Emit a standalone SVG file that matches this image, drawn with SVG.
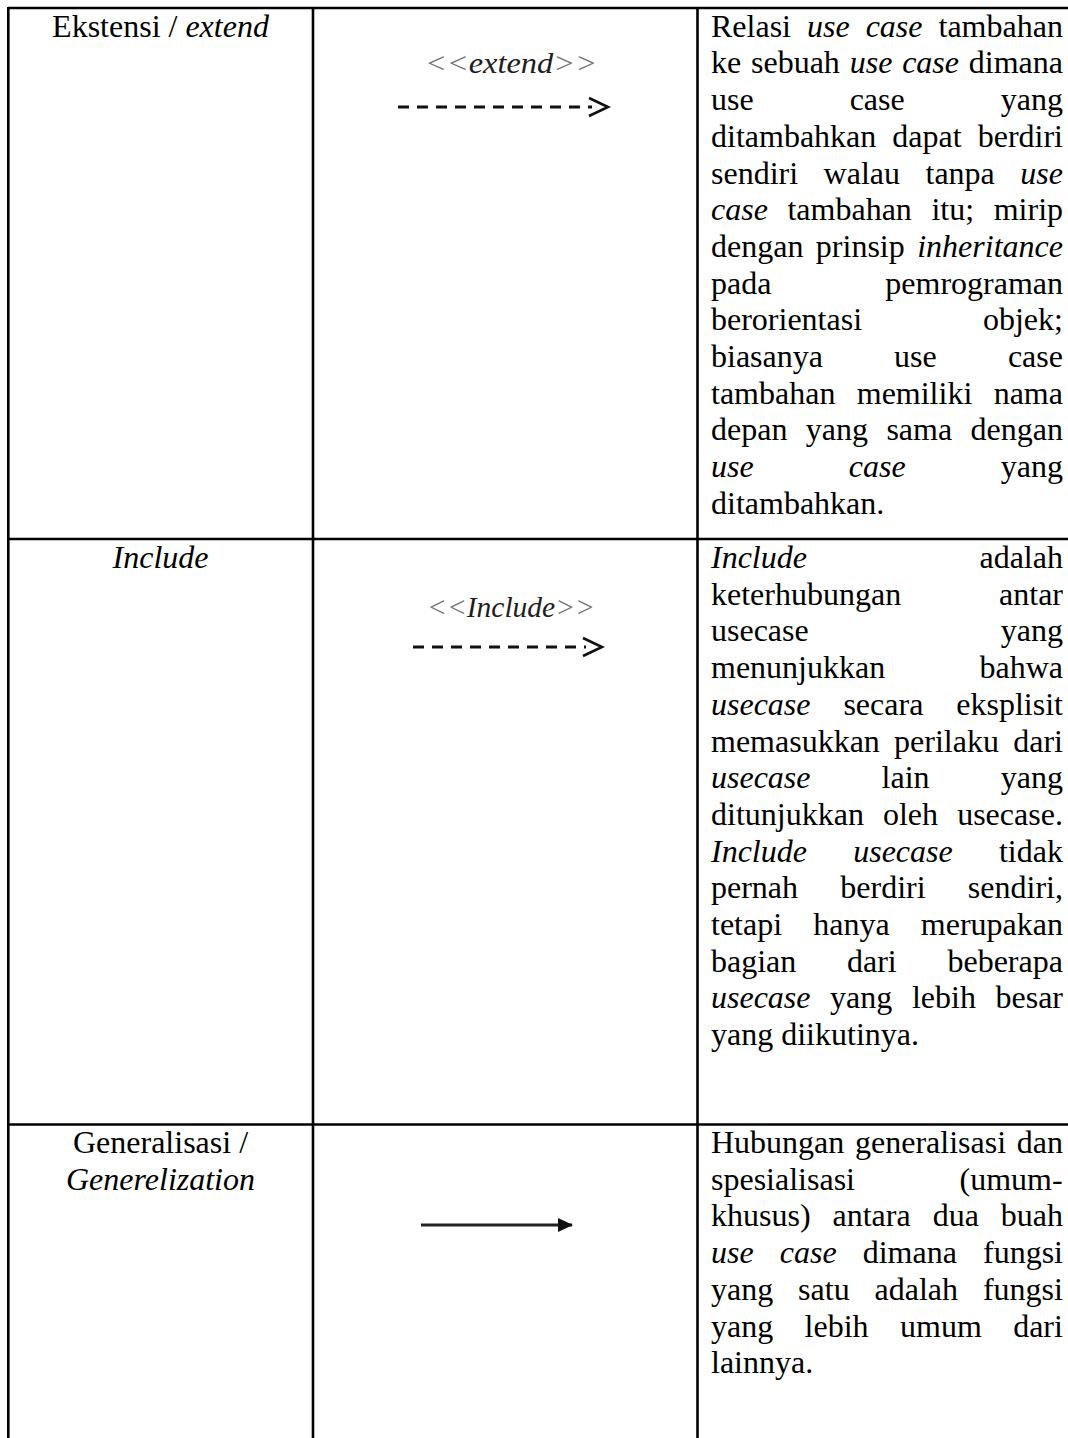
<svg xmlns="http://www.w3.org/2000/svg" width="1068" height="1438" viewBox="0 0 1068 1438">
<style>
.t{font-family:"Liberation Serif","Times New Roman",serif;font-size:32px;fill:#000}
.i{font-style:italic}
.c{text-anchor:middle}
.grid{stroke:#000;stroke-width:2.6;fill:none}
.lbl{font-family:"Liberation Serif","Times New Roman",serif;font-style:italic;font-size:29px}
.dash{stroke:#111;stroke-width:3;stroke-dasharray:11 8;fill:none}
.chev{stroke:#111;stroke-width:2.6;fill:none;stroke-linejoin:miter}
</style>
<defs>
<marker id="tri" markerWidth="15" markerHeight="14" refX="14" refY="7" orient="auto" markerUnits="userSpaceOnUse"><path d="M0,0 L15,7 L0,14 Z" fill="#111"/></marker>
</defs>
<rect width="1068" height="1438" fill="#fff"/>
<g id="table-grid">
<line class="grid" x1="8" y1="8" x2="1068" y2="8"/>
<line class="grid" x1="8" y1="539" x2="1068" y2="539"/>
<line class="grid" x1="8" y1="1124.5" x2="1068" y2="1124.5"/>
<line class="grid" x1="8.3" y1="7" x2="8.3" y2="1438"/>
<line class="grid" x1="313" y1="7" x2="313" y2="1438"/>
<line class="grid" x1="697.5" y1="7" x2="697.5" y2="1438"/>
</g>
<g id="extend-name"><text class="t c" x="160.5" y="36.7">Ekstensi / <tspan class="i">extend</tspan></text></g>
<g id="include-name"><text class="t c i" x="160.5" y="568">Include</text></g>
<g id="generalization-name"><text class="t c" x="160.5" y="1153">Generalisasi /</text><text class="t c i" x="160.5" y="1189.6">Generelization</text></g>
<g id="extend-symbol">
<text class="lbl" x="425" y="73" textLength="172" lengthAdjust="spacingAndGlyphs"><tspan fill="#777">&lt;&lt;</tspan><tspan fill="#1e1e1e">extend</tspan><tspan fill="#777">&gt;&gt;</tspan></text>
</g>
<g id="include-symbol">
<text class="lbl" x="427" y="617" textLength="168" lengthAdjust="spacingAndGlyphs"><tspan fill="#777">&lt;&lt;</tspan><tspan fill="#1e1e1e">Include</tspan><tspan fill="#777">&gt;&gt;</tspan></text>
</g>
<g id="connectors">
<line class="dash" x1="398" y1="107" x2="592" y2="107"/>
<path class="chev" d="M589,98 L608,107 L589,116"/>
<line class="dash" x1="413" y1="647" x2="586" y2="647"/>
<path class="chev" d="M583,638 L602,647 L583,656"/>
<line x1="421" y1="1225" x2="572" y2="1225" stroke="#222" stroke-width="3" marker-end="url(#tri)"/>
</g>
<g id="extend-desc">
<text class="t" x="711" y="36.7" word-spacing="8.0">Relasi <tspan class="i">use case</tspan> tambahan</text>
<text class="t" x="711" y="73.4" word-spacing="1.8">ke sebuah <tspan class="i">use case</tspan> dimana</text>
<text class="t" x="711" y="110.1" word-spacing="88">use case yang</text>
<text class="t" x="711" y="146.8" word-spacing="8.05">ditambahkan dapat berdiri</text>
<text class="t" x="711" y="183.5" word-spacing="17.5">sendiri walau tanpa <tspan class="i">use</tspan></text>
<text class="t" x="711" y="220.2" word-spacing="11.6"><tspan class="i">case</tspan> tambahan itu; mirip</text>
<text class="t" x="711" y="256.9" word-spacing="4.45">dengan prinsip <tspan class="i">inheritance</tspan></text>
<text class="t" x="711" y="293.6" word-spacing="105.9">pada pemrograman</text>
<text class="t" x="711" y="330.3" word-spacing="112.9">berorientasi objek;</text>
<text class="t" x="711" y="367" word-spacing="63.15">biasanya use case</text>
<text class="t" x="711" y="403.7" word-spacing="13.35">tambahan memiliki nama</text>
<text class="t" x="711" y="440.4" word-spacing="10.4">depan yang sama dengan</text>
<text class="t" x="711" y="477.1" word-spacing="87.1"><tspan class="i">use case</tspan> yang</text>
<text class="t" x="711" y="513.8">ditambahkan.</text>
</g>
<g id="include-desc">
<text class="t" x="711" y="568" word-spacing="164.5"><tspan class="i">Include</tspan> adalah</text>
<text class="t" x="711" y="604.7" word-spacing="89.9">keterhubungan antar</text>
<text class="t" x="711" y="641.4" word-spacing="184.1">usecase yang</text>
<text class="t" x="711" y="678.1" word-spacing="86.3">menunjukkan bahwa</text>
<text class="t" x="711" y="714.8" word-spacing="24.9"><tspan class="i">usecase</tspan> secara eksplisit</text>
<text class="t" x="711" y="751.5" word-spacing="6.25">memasukkan perilaku dari</text>
<text class="t" x="711" y="788.2" word-spacing="63.1"><tspan class="i">usecase</tspan> lain yang</text>
<text class="t" x="711" y="824.9" word-spacing="11.1">ditunjukkan oleh usecase.</text>
<text class="t" x="711" y="861.6" word-spacing="38.25"><tspan class="i">Include usecase</tspan> tidak</text>
<text class="t" x="711" y="898.3" word-spacing="34.25">pernah berdiri sendiri,</text>
<text class="t" x="711" y="935" word-spacing="23.15">tetapi hanya merupakan</text>
<text class="t" x="711" y="971.7" word-spacing="42.7">bagian dari beberapa</text>
<text class="t" x="711" y="1008.4" word-spacing="11.6"><tspan class="i">usecase</tspan> yang lebih besar</text>
<text class="t" x="711" y="1045.1">yang diikutinya.</text>
</g>
<g id="generalization-desc">
<text class="t" x="711" y="1153" word-spacing="2.7">Hubungan generalisasi dan</text>
<text class="t" x="711" y="1189.7" word-spacing="96.5">spesialisasi (umum-</text>
<text class="t" x="711" y="1226.4" word-spacing="13.96">khusus) antara dua buah</text>
<text class="t" x="711" y="1263.1" word-spacing="18.1"><tspan class="i">use case</tspan> dimana fungsi</text>
<text class="t" x="711" y="1299.8" word-spacing="16.9">yang satu adalah fungsi</text>
<text class="t" x="711" y="1336.5" word-spacing="23.4">yang lebih umum dari</text>
<text class="t" x="711" y="1373.2">lainnya.</text>
</g>
</svg>
